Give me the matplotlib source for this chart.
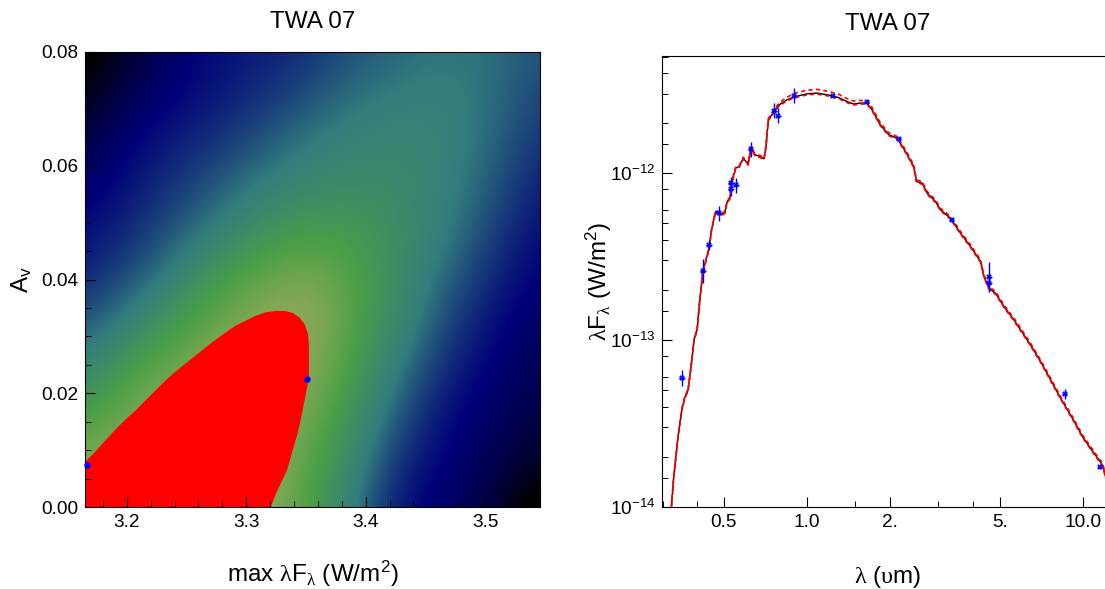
import numpy as np
import matplotlib
matplotlib.use('Agg')
import matplotlib.pyplot as plt
from matplotlib.colors import LinearSegmentedColormap
from matplotlib.ticker import FixedLocator, FixedFormatter

plt.rcParams['font.family'] = ['Liberation Sans', 'DejaVu Sans']
plt.rcParams['mathtext.fontset'] = 'custom'
plt.rcParams['mathtext.rm'] = 'Liberation Sans'
plt.rcParams['mathtext.it'] = 'Liberation Sans'
plt.rcParams['mathtext.sf'] = 'Liberation Serif'
plt.rcParams['mathtext.default'] = 'rm'

title = 'TWA 07'

# left panel: surface, rows from Av=0 upwards
grid_x = [3.165, 3.203, 3.241, 3.279, 3.317, 3.356, 3.394, 3.432, 3.470, 3.508, 3.546]
grid_y = [0.0, 0.008, 0.016, 0.024, 0.032, 0.040, 0.048, 0.056, 0.064, 0.072, 0.080]
surface = [
    [1.00, 1.00, 1.00, 1.00, 1.00, 0.72, 0.47, 0.27, 0.22, 0.12, -0.10],
    [0.90, 1.00, 1.00, 1.00, 1.00, 0.78, 0.53, 0.33, 0.24, 0.17, 0.09],
    [0.72, 0.88, 1.00, 1.00, 1.00, 0.87, 0.60, 0.40, 0.27, 0.21, 0.13],
    [0.53, 0.74, 0.88, 1.00, 1.00, 0.95, 0.68, 0.47, 0.32, 0.24, 0.17],
    [0.42, 0.53, 0.71, 0.87, 1.00, 1.00, 0.74, 0.55, 0.38, 0.27, 0.20],
    [0.33, 0.41, 0.53, 0.72, 0.85, 0.93, 0.75, 0.58, 0.44, 0.32, 0.24],
    [0.27, 0.34, 0.43, 0.53, 0.66, 0.72, 0.70, 0.60, 0.50, 0.37, 0.27],
    [0.23, 0.29, 0.36, 0.44, 0.52, 0.58, 0.61, 0.58, 0.52, 0.42, 0.30],
    [0.14, 0.26, 0.31, 0.36, 0.43, 0.50, 0.54, 0.56, 0.53, 0.45, 0.35],
    [0.05, 0.19, 0.26, 0.30, 0.35, 0.42, 0.48, 0.51, 0.52, 0.47, 0.38],
    [-0.06, 0.10, 0.23, 0.28, 0.31, 0.35, 0.42, 0.46, 0.49, 0.47, 0.42],
]

# red region outline
region_x = [3.165, 3.1734, 3.1817, 3.1901, 3.1985, 3.2069, 3.2152, 3.2236, 3.232, 3.2404,
            3.2487, 3.2571, 3.2655, 3.2739, 3.2822, 3.2906, 3.299, 3.3074, 3.3157, 3.3241,
            3.3325, 3.3392, 3.345, 3.3492, 3.3517, 3.3525, 3.3525, 3.3509, 3.3484, 3.3459,
            3.3431, 3.3392, 3.3342, 3.3291, 3.3255, 3.3205, 3.165]
region_y = [0.00791, 0.00967, 0.0116, 0.01354, 0.0153, 0.01688, 0.01864, 0.0204, 0.02215, 0.02374,
            0.02514, 0.02655, 0.02796, 0.02936, 0.03059, 0.03182, 0.0327, 0.03358, 0.0342, 0.03446,
            0.03446, 0.03411, 0.03323, 0.032, 0.03042, 0.02848, 0.02303, 0.02092, 0.01829, 0.01565,
            0.01301, 0.0102, 0.00651, 0.00422, 0.00264, 0.0, 0.0]

dots_x = [3.1665, 3.351]
dots_y = [0.0074, 0.0225]

# right panel: model SED, log10 of wavelength and flux
log_wave = [-0.4909, -0.4825, -0.4669, -0.4524, -0.4425, -0.4305, -0.4182, -0.4087, -0.3978, -0.388,
            -0.3771, -0.3542, -0.3455, -0.3309, -0.3091, -0.2971, -0.2887, -0.2789, -0.2727, -0.2582,
            -0.2451, -0.2305, -0.2124, -0.2025, -0.188, -0.1698, -0.1553, -0.148, -0.1396, -0.1189,
            -0.0996, -0.0727, -0.0425, 0.0, 0.0364, 0.0727, 0.1149, 0.1455, 0.1695, 0.1938,
            0.2182, 0.2364, 0.2665, 0.2967, 0.3273, 0.3575, 0.3876, 0.3975, 0.4182, 0.4364,
            0.4665, 0.4847, 0.5211, 0.5575, 0.5938, 0.6302, 0.6422, 0.6604, 0.6847, 0.7149,
            0.7513, 0.7756, 0.8116, 0.848, 0.8844, 0.9207, 0.9636, 1.0, 1.0422, 1.0727, 1.0847]
log_flux = [-13.999, -13.819, -13.579, -13.409, -13.345, -13.299, -13.139, -12.995, -12.939, -12.76,
            -12.592, -12.45, -12.34, -12.23, -12.25, -12.234, -12.17, -12.15, -12.06, -11.97,
            -11.96, -11.91, -11.946, -11.85, -11.89, -11.9, -11.914, -11.84, -11.68, -11.631,
            -11.59, -11.561, -11.541, -11.525, -11.52, -11.53, -11.547, -11.571, -11.586, -11.58,
            -11.58, -11.62, -11.71, -11.77, -11.79, -11.87, -11.96, -12.05, -12.06, -12.12,
            -12.17, -12.22, -12.27, -12.36, -12.44, -12.53, -12.62, -12.69, -12.72, -12.80,
            -12.88, -12.94, -13.03, -13.13, -13.24, -13.35, -13.47, -13.58, -13.68, -13.75, -13.83]
# dashed envelope above and below the model, in dex
upper_dex = [0.006] * 28 + [0.008, 0.010, 0.012, 0.016, 0.020, 0.022, 0.022, 0.022, 0.020, 0.018,
                            0.018, 0.016, 0.014, 0.014, 0.012, 0.012] + [0.010] * 27
lower_dex = [0.006] * 71

# photometry
phot_wave = [-0.4524, -0.376, -0.3542, -0.3178, -0.2742, -0.2742, -0.256, -0.2036, -0.1178, -0.1033,
             -0.0451, 0.0931, 0.2167, 0.333, 0.5247, 0.6618, 0.6618, 0.9345, 1.064]
phot_flux = [-13.225, -12.586, -12.43, -12.24, -12.06, -12.096, -12.072, -11.856, -11.625, -11.655,
             -11.537, -11.535, -11.571, -11.794, -12.282, -12.623, -12.658, -13.323, -13.763]
phot_err = [0.048, 0.07, 0.03, 0.045, 0.04, 0.04, 0.045, 0.045, 0.045, 0.045,
            0.045, 0.008, 0.012, 0.012, 0.012, 0.09, 0.05, 0.03, 0.012]
wave_err = 0.01

x_major = [0.5, 1.0, 2.0, 5.0, 10.0]
x_major_labels = ['0.5', '1.0', '2.', '5.', '10.0']
x_minor = [0.3, 0.4, 1.5, 3.0, 4.0]
y_major = [1e-14, 1e-13, 1e-12]
y_major_labels = ['$10^{-14}$', '$10^{-13}$', '$10^{-12}$']
y_minor_steps = [1.5, 2, 3, 4, 5, 6, 8]

cmap = LinearSegmentedColormap.from_list('sed', [(0, 0, 0), (0, 0, 120/255), (50/255, 125/255, 125/255),
                                                 (75/255, 160/255, 70/255), (150/255, 170/255, 90/255)])

fig = plt.figure(figsize=(11.05, 5.89), dpi=100)
ax1 = fig.add_axes([85/1105, 1-507/589, 455/1105, 455/589])
ax2 = fig.add_axes([662/1105, 1-507/589, 443/1105, 451/589])

dx = (grid_x[1]-grid_x[0])/2
dy = (grid_y[1]-grid_y[0])/2
ax1.imshow(surface, origin='lower', cmap=cmap, vmin=0, vmax=1, aspect='auto', interpolation='bicubic',
           extent=[grid_x[0]-dx, grid_x[-1]+dx, grid_y[0]-dy, grid_y[-1]+dy])
ax1.fill(region_x, region_y, color='red', lw=0)
ax1.plot(dots_x, dots_y, 'o', color='blue', ms=3.6, clip_on=False, zorder=5)
ax1.set_xlim(3.165, 3.546)
ax1.set_ylim(0, 0.08)
ax1.set_xticks([3.2, 3.3, 3.4, 3.5])
ax1.set_xticks(np.arange(3.18, 3.55, 0.02), minor=True)
ax1.set_yticks([0, 0.02, 0.04, 0.06, 0.08])
ax1.set_yticklabels(['0.00', '0.02', '0.04', '0.06', '0.08'])
ax1.set_yticks(np.arange(0, 0.081, 0.005), minor=True)
ax1.set_xlabel(r'max $\mathsf{λ}$F$_{\mathsf{λ}}$ (W/m$^2$)', fontsize=17.5, labelpad=20)
ax1.set_ylabel('A$_v$', fontsize=17.5, labelpad=5)
ax1.set_title(title, fontsize=17.5, pad=17.5)

wave = 10.0**np.array(log_wave)
flux = np.array(log_flux)
ax2.plot(wave, 10.0**flux, color='black', lw=1.0)
ax2.plot(wave, 10.0**(flux+np.array(upper_dex)), color='red', lw=1.2, dashes=(2.5, 2))
ax2.plot(wave, 10.0**(flux-np.array(lower_dex)), color='red', lw=1.2, dashes=(2.5, 2))
pw = 10.0**np.array(phot_wave)
pf = np.array(phot_flux)
pe = np.array(phot_err)
ax2.errorbar(pw, 10.0**pf, yerr=[10.0**pf-10.0**(pf-pe), 10.0**(pf+pe)-10.0**pf],
             xerr=[pw-pw/10**wave_err, pw*10**wave_err-pw], fmt='X', color='blue', ms=4, mew=0, lw=1, zorder=5)
ax2.set_xscale('log')
ax2.set_yscale('log')
ax2.set_xlim(0.2985, 12.05)
ax2.set_ylim(1e-14, 10**-11.298)
ax2.xaxis.set_major_locator(FixedLocator(x_major))
ax2.xaxis.set_major_formatter(FixedFormatter(x_major_labels))
ax2.xaxis.set_minor_locator(FixedLocator(x_minor))
ax2.xaxis.set_minor_formatter(FixedFormatter([]))
ax2.yaxis.set_major_locator(FixedLocator(y_major))
ax2.yaxis.set_major_formatter(FixedFormatter(y_major_labels))
ax2.yaxis.set_minor_locator(FixedLocator([m*10.0**e for e in [-14, -13, -12] for m in y_minor_steps]))
ax2.yaxis.set_minor_formatter(FixedFormatter([]))
ax2.spines['right'].set_visible(False)
ax2.set_xlabel(r'$\mathsf{λ}$ ($\mathsf{υ}$m)', fontsize=17.5, x=0.509, labelpad=24)
ax2.set_ylabel(r'$\mathsf{λ}$F$_{\mathsf{λ}}$ (W/m$^2$)', fontsize=17.5, labelpad=-3)
ax2.set_title(title, fontsize=17.5, pad=19, x=0.509)

for ax in [ax1, ax2]:
    ax.tick_params(which='major', direction='in', length=7, width=0.8, labelsize=13.7, pad=5)
    ax.tick_params(which='minor', direction='in', length=4, width=0.7)
    ax.tick_params(top=False, right=False, which='both')
    for s in ax.spines.values():
        s.set_linewidth(0.8)

fig.savefig('out.png', dpi=100)
